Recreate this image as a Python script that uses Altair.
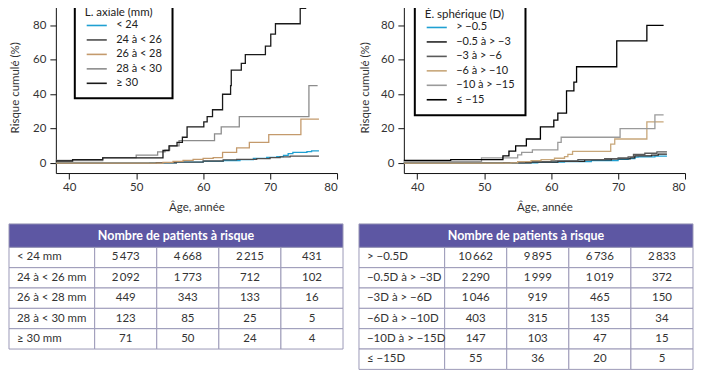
import altair as alt
import pandas as pd

FONT = "Lato"
TXT = "#333333"
PURPLE = "#5d57a3"
GRID = "#9c9ab8"

# ---------------- Left panel: L. axiale (mm) ----------------
LA_SERIES = ["< 24", "24 à < 26", "26 à < 28", "28 à < 30", "≥ 30"]
LA_COLORS = ["#1fa0d2", "#4d4d4d", "#c49a6c", "#8c8c8c", "#1a1a1a"]

LA1_AGE = [38, 52, 56, 60, 63, 65.5, 67.5, 69.5, 71, 72, 72.7, 73.4, 75.5, 76.2, 77.3]
LA1_RISK = [0, 0.1, 0.5, 1, 1.5, 2, 2.7, 3.3, 3.8, 4.5, 5.5, 6.2, 6.6, 7.1, 7.1]
LA2_AGE = [38, 53, 56, 60, 63, 65, 68, 70, 71.5, 73, 77.3]
LA2_RISK = [0, 0.2, 0.6, 1.2, 1.8, 2.2, 2.6, 3.2, 3.6, 4.0, 4.0]
LA3_AGE = [38, 52.5, 54, 55.5, 57, 58.5, 60, 61.5, 62.9, 65, 66.9, 69.8, 74.6, 77.3]
LA3_RISK = [0, 0, 0.4, 1, 1.6, 2.2, 2.7, 3.2, 6.2, 8.8, 12, 16.5, 25.5, 25.5]
LA4_AGE = [38, 45, 50, 53.2, 54.3, 55, 56.4, 61.7, 62.7, 65.4, 75.8, 77.1]
LA4_RISK = [1.5, 3.2, 4.6, 6.5, 7.5, 10, 13, 17, 21, 27, 45, 45]
LA5_AGE = [38, 40.5, 45, 54, 54.9, 56.1, 56.9, 57.6, 60.1, 60.6, 61.4, 62.9, 64.1, 64.2,
           65.7, 66.3, 69.3, 70.1, 70.8, 74.5, 75.4]
LA5_RISK = [1.2, 2, 3, 7.3, 10, 12, 15, 21, 24, 27, 31, 40, 45, 54, 58, 63, 68, 75, 81, 90, 90]

# ---------------- Right panel: E. sphérique (D) ----------------
ES_SERIES = ["> −0.5", "−0.5 à > −3", "−3 à > −6", "−6 à > −10", "−10 à > −15", "≤ −15"]
ES_COLORS = ["#1fa0d2", "#262626", "#5a5a5a", "#c8a77a", "#9a9a9a", "#000000"]
ES_THICK = "≤ −15"

ES1_AGE = [38, 54, 58, 62, 66, 70, 71.5, 72.5, 73, 75.5, 77.3]
ES1_RISK = [0, 0.2, 0.5, 0.9, 1.5, 2.2, 2.6, 3.4, 3.6, 4.0, 4.0]
ES2_AGE = [38, 53, 57, 61, 65, 69, 71.8, 72.5, 75, 76, 77.3]
ES2_RISK = [0, 0.2, 0.6, 1.0, 1.8, 2.4, 3, 4.2, 4.6, 5.2, 5.2]
ES3_AGE = [38, 53, 56, 60, 64, 68, 70, 71.5, 72.3, 74, 75.8, 77.3]
ES3_RISK = [0, 0.3, 0.8, 1.3, 2, 2.6, 3, 3.6, 5, 5.7, 6.5, 6.5]
ES4_AGE = [38, 54, 55, 57, 58.5, 60.5, 62, 62.5, 63.2, 68.9, 69.5, 74.3, 76.8]
ES4_RISK = [0, 0.1, 0.8, 1.4, 2, 2.8, 3.8, 5, 6.8, 11, 14, 24, 24]
ES5_AGE = [38, 49.6, 55, 55.6, 57.2, 61, 61.5, 70.3, 75.5, 76.8]
ES5_RISK = [0.8, 3, 4.8, 6.2, 7.7, 12, 15, 20, 28, 28]
ES6_AGE = [38, 45, 52.8, 53.7, 54.7, 56.3, 58.4, 60.4, 61.0, 62.3, 63.4, 63.8, 69.8, 74.3, 76.8]
ES6_RISK = [1.6, 2, 4.2, 7, 10, 14, 21, 25, 29, 42, 47, 56, 71, 80, 80]

# ---------------- Tables: number of patients at risk ----------------
TABLE_TITLE = "Nombre de patients à risque"
LT_ROWS = ["< 24 mm", "24 à < 26 mm", "26 à < 28 mm", "28 à < 30 mm", "≥ 30 mm"]
LT_C1 = [5473, 2092, 449, 123, 71]
LT_C2 = [4668, 1773, 343, 85, 50]
LT_C3 = [2215, 712, 133, 25, 24]
LT_C4 = [431, 102, 16, 5, 4]

RT_ROWS = ["> −0.5D", "−0.5D à > −3D", "−3D à > −6D", "−6D à > −10D", "−10D à > −15D", "≤ −15D"]
RT_C1 = [10662, 2290, 1046, 403, 147, 55]
RT_C2 = [9895, 1999, 919, 315, 103, 36]
RT_C3 = [6736, 1019, 465, 135, 47, 20]
RT_C4 = [2833, 372, 150, 34, 15, 5]

# ---------------- layout constants ----------------
PLOT_W = 282
PLOT_H = 172
TABLE_W = 335
ROW_PX = 20.4
HEADER_PX = 23.5
COL_W = [1.38, 1, 1, 1, 1]
# a long horizontal stroke for the legend keys (custom path, wider than its layout box)
KEY_PATH = "M-1.55,0H1.55"


def long_df(series, ages, risks, name):
    rows = []
    for s, al, rl in zip(series, ages, risks):
        for a, r in zip(al, rl):
            rows.append({name: s, "age": a, "risk": r})
    return pd.DataFrame(rows)


def curve_chart(df, name, series, colors, title, legend_x, legend_y, title_pad, width_enc):
    enc = dict(
        x=alt.X("age:Q",
                scale=alt.Scale(domain=[38, 80], nice=False, zero=False),
                axis=alt.Axis(values=[40, 50, 60, 70, 80], title="Âge, année",
                              titlePadding=8.5, labelPadding=3)),
        y=alt.Y("risk:Q",
                scale=alt.Scale(domain=[-5.8, 93.9], nice=False, zero=False),
                axis=alt.Axis(values=[0, 20, 40, 60, 80], title="Risque cumulé (%)",
                              titlePadding=title_pad, labelPadding=4)),
        color=alt.Color(f"{name}:N",
                        scale=alt.Scale(domain=series, range=colors),
                        legend=alt.Legend(title=title, orient="none",
                                          legendX=legend_x, legendY=legend_y,
                                          symbolType=KEY_PATH, symbolSize=169,
                                          symbolStrokeWidth=1.6, symbolOffset=4.5,
                                          fillColor="white", strokeColor="black", padding=10,
                                          rowPadding=1.5, titlePadding=0, labelOffset=12)),
    )
    if width_enc is not None:
        enc["strokeWidth"] = width_enc
    return alt.Chart(df).mark_line(interpolate="step-after", strokeWidth=1.3).encode(
        **enc).properties(width=PLOT_W, height=PLOT_H)


def fmt(n):
    return f"{n:,}".replace(",", "\u2009")


def table_chart(row_labels, columns, overhang):
    """Table drawn under a curve; its left edge sits `overhang` px left of the plot origin."""
    n = len(row_labels)
    edges = [0.0]
    for w in COL_W:
        edges.append(edges[-1] + w)
    total_w = edges[-1]
    head_h = HEADER_PX / ROW_PX
    total_h = head_h + n
    cells, labels, nums = [], [], []
    for i, lab in enumerate(row_labels):
        y0 = head_h + i
        for j in range(len(COL_W)):
            cells.append({"x0": edges[j], "x1": edges[j + 1], "y0": y0, "y1": y0 + 1})
        labels.append({"x": edges[0], "y": y0 + 0.5, "t": lab})
        for j, col in enumerate(columns):
            nums.append({"x": (edges[j + 1] + edges[j + 2]) / 2, "y": y0 + 0.5, "t": fmt(col[i])})
    head = pd.DataFrame([{"x0": 0, "x1": total_w, "y0": 0, "y1": head_h,
                          "x": total_w / 2, "y": head_h / 2, "t": TABLE_TITLE}])
    lo = total_w * overhang / TABLE_W
    xs = alt.Scale(domain=[lo, total_w], nice=False, zero=False)
    ys = alt.Scale(domain=[0, total_h], nice=False, zero=False, reverse=True)

    def rects(data, fill):
        return alt.Chart(data).mark_rect(fill=fill, stroke=GRID, strokeWidth=1).encode(
            x=alt.X("x0:Q", scale=xs, axis=None), x2="x1:Q",
            y=alt.Y("y0:Q", scale=ys, axis=None), y2="y1:Q")

    def texts(data, **kw):
        return alt.Chart(data).mark_text(font=FONT, baseline="middle", **kw).encode(
            x=alt.X("x:Q", scale=xs, axis=None),
            y=alt.Y("y:Q", scale=ys, axis=None),
            text="t:N")

    layer = alt.layer(
        rects(pd.DataFrame(cells), "white"),
        rects(head, PURPLE),
        texts(head, color="white", fontSize=12.5, fontWeight="bold", align="center"),
        texts(pd.DataFrame(labels), color=TXT, fontSize=11.5, align="left", dx=8),
        texts(pd.DataFrame(nums), color=TXT, fontSize=11.5, align="center"),
    ).properties(width=TABLE_W - overhang, height=HEADER_PX + ROW_PX * n)
    return layer


la_df = long_df(LA_SERIES,
                [LA1_AGE, LA2_AGE, LA3_AGE, LA4_AGE, LA5_AGE],
                [LA1_RISK, LA2_RISK, LA3_RISK, LA4_RISK, LA5_RISK], "axiale")
es_df = long_df(ES_SERIES,
                [ES1_AGE, ES2_AGE, ES3_AGE, ES4_AGE, ES5_AGE, ES6_AGE],
                [ES1_RISK, ES2_RISK, ES3_RISK, ES4_RISK, ES5_RISK, ES6_RISK], "spherique")

left_curve = curve_chart(la_df, "axiale", LA_SERIES, LA_COLORS, "L. axiale (mm)", 19, -5, 12, None)
right_curve = curve_chart(
    es_df, "spherique", ES_SERIES, ES_COLORS, "É. sphérique (D)", 11, -3, 10,
    alt.condition(alt.datum.spherique == ES_THICK, alt.value(2.3), alt.value(1.3)))

left_table = table_chart(LT_ROWS, [LT_C1, LT_C2, LT_C3, LT_C4], 47)
right_table = table_chart(RT_ROWS, [RT_C1, RT_C2, RT_C3, RT_C4], 45)

chart = alt.hconcat(
    alt.vconcat(left_curve, left_table, spacing=9),
    alt.vconcat(right_curve, right_table, spacing=9),
    spacing=14,
).resolve_scale(
    color="independent"
).resolve_legend(
    color="independent"
).properties(
    padding={"top": -13, "left": 0, "right": 0, "bottom": 0}
).configure_view(
    strokeWidth=0
).configure_axis(
    labelFont=FONT, titleFont=FONT, labelFontSize=11.5, titleFontSize=11.5,
    labelColor=TXT, titleColor=TXT, titleFontWeight="normal",
    domainColor="#111111", tickColor="#111111", tickSize=6, grid=False
).configure_legend(
    labelFont=FONT, titleFont=FONT, labelFontSize=11, titleFontSize=11.5,
    labelColor="#222222", titleColor="#222222", titleFontWeight="normal",
    strokeWidth=2
)

chart.save("out.html", embed_options={"renderer": "svg", "actions": False})
